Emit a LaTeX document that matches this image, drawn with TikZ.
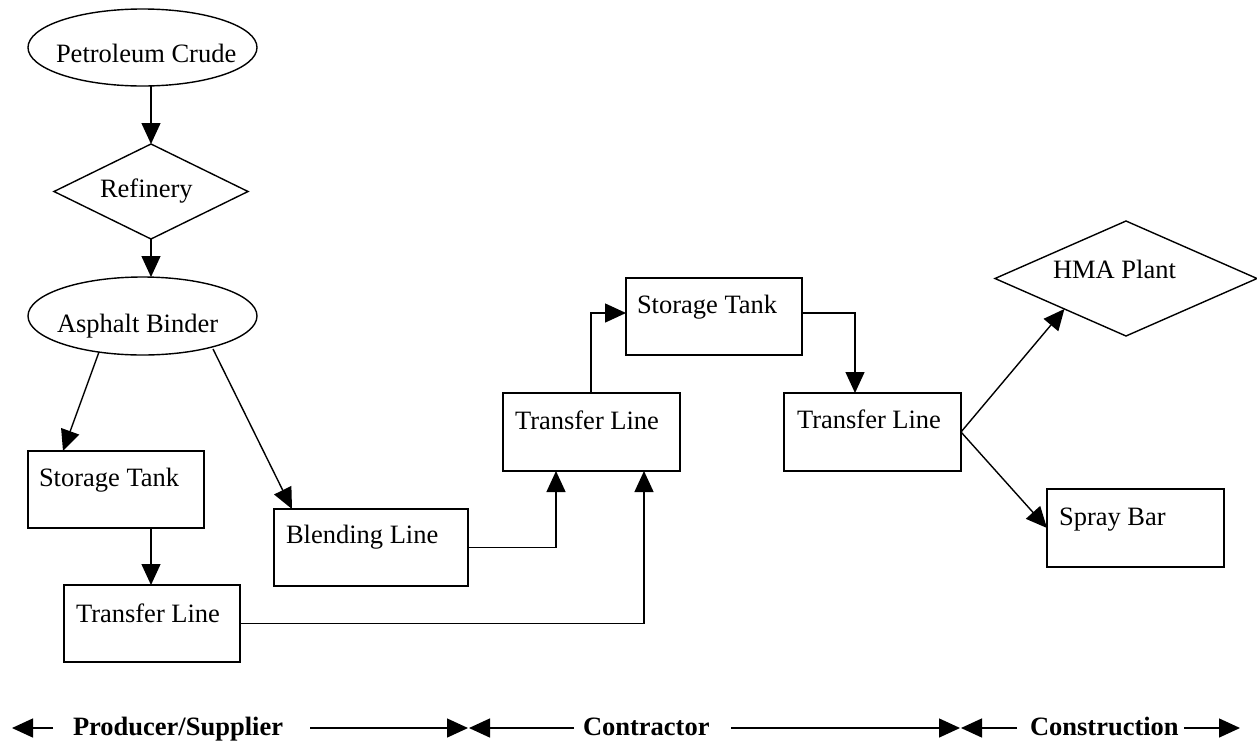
\documentclass[tikz,border=0pt]{standalone}
\usepackage{fontspec}
\setmainfont{Liberation Serif}
\usetikzlibrary{arrows.meta,shapes.geometric,calc}
\begin{document}
\begin{tikzpicture}[x=1pt,y=-1pt,
  every node/.style={inner sep=0pt, outer sep=0pt},
  lbl/.style={anchor=base west, font=\fontsize{26.5}{30}\selectfont},
  blbl/.style={anchor=base west, font=\fontsize{26.5}{30}\selectfont\bfseries},
  boxn/.style={draw, line width=1.4pt, rectangle, anchor=north west},
  ell/.style={draw, line width=1.4pt, ellipse},
  dia/.style={draw, line width=1.4pt, diamond},
  arr/.style={line width=1.4pt, -{Triangle[length=21pt,width=19pt]}}]
\useasboundingbox (0,0) rectangle (1257,742);
% nodes
\node[ell, minimum width=229pt, minimum height=77pt] (pc) at (142.5,47.5) {};
\node[lbl] (pct) at (56,62.7) {Petroleum Crude};
\node[dia, minimum width=194pt, minimum height=95pt] (rf) at (151,191.5) {};
\node[lbl] (rft) at (100,197) {Refinery};
\node[ell, minimum width=229pt, minimum height=78pt] (ab) at (142.5,316) {};
\node[lbl] (abt) at (57,332) {Asphalt Binder};
\node[boxn, minimum width=176pt, minimum height=77pt] (st1) at (28,451) {};
\node[lbl] (st1t) at ($(st1.north west)+(11,35)$) {Storage Tank};
\node[boxn, minimum width=176pt, minimum height=77pt] (tl1) at (64,585) {};
\node[lbl] (tl1t) at ($(tl1.north west)+(12,37)$) {Transfer Line};
\node[boxn, minimum width=194pt, minimum height=77pt] (bl) at (274,509) {};
\node[lbl] (blt) at ($(bl.north west)+(12,34)$) {Blending Line};
\node[boxn, minimum width=177pt, minimum height=78pt] (tl2) at (503,393) {};
\node[lbl] (tl2t) at ($(tl2.north west)+(12,36)$) {Transfer Line};
\node[boxn, minimum width=176pt, minimum height=77pt] (st2) at (626,278) {};
\node[lbl] (st2t) at ($(st2.north west)+(11,35)$) {Storage Tank};
\node[boxn, minimum width=177pt, minimum height=78pt] (tl3) at (784,393) {};
\node[lbl] (tl3t) at ($(tl3.north west)+(13,35)$) {Transfer Line};
\node[dia, minimum width=262pt, minimum height=115pt] (hma) at (1126,278.5) {};
\node[lbl] (hmat) at (1053,278) {HMA Plant};
\node[boxn, minimum width=177pt, minimum height=78pt] (sb) at (1047,489) {};
\node[lbl] (sbt) at ($(sb.north west)+(12,36)$) {Spray Bar};
% connectors
\draw[arr] (rf.north |- pc.south) -- (rf.north);
\draw[arr] (rf.south) -- (rf.south |- ab.north);
\draw[arr] ($(ab.center)+(-43.5,36)$) -- ($(st1.north west)+(35,0)$);
\draw[arr] ($(ab.center)+(70.5,33)$) -- ($(bl.north west)+(18,0)$);
\draw[arr] (st1.south -| rf.south) -- (tl1.north -| rf.south);
\draw[arr] (bl.east) -| ($(tl2.south west)+(53,0)$);
\draw[arr] (tl1.east) -| ($(tl2.south west)+(141,0)$);
\draw[arr] ($(tl2.north west)+(88,0)$) |- ($(st2.north west)+(0,35)$);
\draw[arr] ($(st2.north east)+(0,35)$) -| ($(tl3.north west)+(71,0)$);
\draw[arr] (tl3.east) -- ($(hma.west)!0.53!(hma.south)$);
\draw[arr] (tl3.east) -- (sb.west);
% bottom legend
\coordinate (a0) at (12,728);
\coordinate (a1) at (53,728);
\coordinate (b0) at (310,728);
\coordinate (b1) at (468,728);
\coordinate (c0) at (574,728);
\coordinate (c1) at (469,728);
\coordinate (d0) at (731,728);
\coordinate (d1) at (960,728);
\coordinate (e0) at (1017,728);
\coordinate (e1) at (961,728);
\coordinate (f0) at (1184,728);
\coordinate (f1) at (1240,728);
\node[blbl] (ps) at (73,735) {Producer/Supplier};
\node[blbl] (ct) at (583,735) {Contractor};
\node[blbl] (cn) at (1030,735) {Construction};
\draw[arr] (a1) -- (a0);
\draw[arr] (b0) -- (b1);
\draw[arr] (c0) -- (c1);
\draw[arr] (d0) -- (d1);
\draw[arr] (e0) -- (e1);
\draw[arr] (f0) -- (f1);
\end{tikzpicture}
\end{document}
